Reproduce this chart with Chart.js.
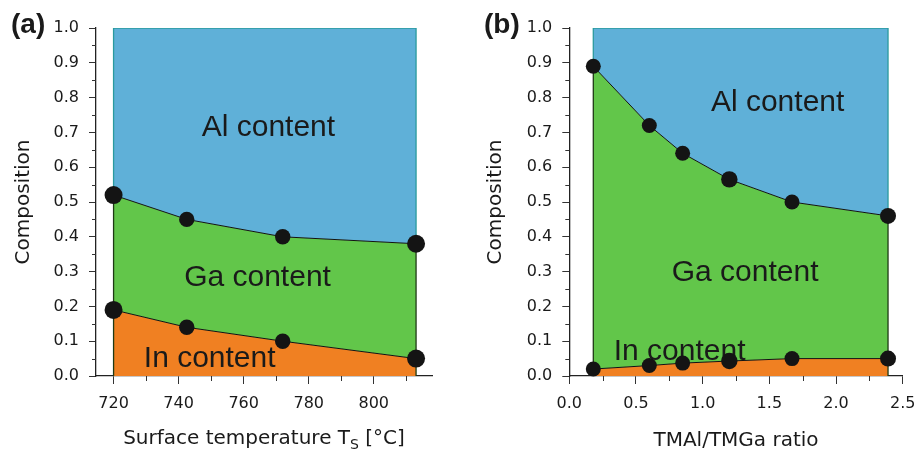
<!DOCTYPE html>
<html>
<head>
<meta charset="utf-8">
<script src="https://cdn.jsdelivr.net/npm/chart.js@4.4.1/dist/chart.umd.min.js"></script>
<style>
  body { margin: 0; background: #fff; }
  #wrap { position: relative; width: 916px; height: 450px; }
  canvas { position: absolute; top: 0; }
  #chartA { left: 0; }
  #chartB { left: 458px; }
</style>
</head>
<body>
<div id="wrap">
  <canvas id="chartA" width="458" height="450"></canvas>
  <canvas id="chartB" width="458" height="450"></canvas>
</div>
<script>
/* DATA (a) : composition vs surface temperature */
const tempA = [720, 742.5, 772, 813];
const alEdgeA = [0.52, 0.45, 0.40, 0.38];   // In + Ga (bottom of Al region)
const inA = [0.19, 0.14, 0.10, 0.05];

/* DATA (b) : composition vs TMAl/TMGa ratio */
const ratioB = [0.18, 0.6, 0.85, 1.2, 1.67, 2.39];
const alEdgeB = [0.89, 0.72, 0.64, 0.565, 0.50, 0.46];
const inB = [0.02, 0.03, 0.037, 0.043, 0.05, 0.05];

const total = 1.0;

/* TICKS */
const yTicks = [0, 0.1, 0.2, 0.3, 0.4, 0.5, 0.6, 0.7, 0.8, 0.9, 1.0];
const yMinor = [0.05, 0.15, 0.25, 0.35, 0.45, 0.55, 0.65, 0.75, 0.85, 0.95];
const xTicksA = [720, 740, 760, 780, 800];
const xMinorA = [730, 750, 770, 790, 810];
const xTicksB = [0, 0.5, 1.0, 1.5, 2.0, 2.5];
const xMinorB = [0.25, 0.75, 1.25, 1.75, 2.25];

const FONT = '"DejaVu Sans", sans-serif';
const INK = "#1a1a1a";

/* DATASETS */
function buildDatasets(xs, al, ind, radii){
  const pts = ys => xs.map((x, i) => ({x, y: ys[i]}));
  const n = xs.length - 1;
  const dot = {pointRadius: radii, pointBackgroundColor: "#141414", pointBorderWidth: 0, pointHoverRadius: radii};
  return [
    Object.assign({label: "Ga/Al boundary", data: pts(al), borderColor: "#111", borderWidth: 1,
      fill: {target: 1}, backgroundColor: "#62c64a", clip: false}, dot),
    Object.assign({label: "In content", data: pts(ind), borderColor: "#111", borderWidth: 1,
      fill: "origin", backgroundColor: "#f08022", clip: false}, dot),
    {label: "Al content", data: xs.map(x => ({x, y: total})), borderWidth: 0, pointRadius: 0,
      fill: {target: 0}, backgroundColor: "#5fb0d8"},
    {label: "Al edge", data: [{x: xs[0], y: al[0]}, {x: xs[0], y: total}, {x: xs[n], y: total}, {x: xs[n], y: al[n]}],
      borderColor: "#2a9a9e", borderWidth: 1.3, pointRadius: 0, fill: false},
    {label: "Ga edge", data: [{x: xs[0], y: 0}, {x: xs[0], y: al[0]}, {x: xs[n], y: null}, {x: xs[n], y: al[n]}, {x: xs[n], y: 0}],
      borderColor: "#1e3a14", borderWidth: 1.3, pointRadius: 0, fill: false, spanGaps: false}
  ];
}

/* PLUGIN: region labels, minor ticks, panel letter, custom title */
const extras = {
  id: "extras",
  beforeDatasetsDraw(chart, args, o){
    const {ctx, scales: {x, y}} = chart;
    ctx.save();
    ctx.fillStyle = INK;
    ctx.font = '30px "Liberation Sans", Arial, sans-serif';
    ctx.textBaseline = "alphabetic";
    o.regions.forEach(r => ctx.fillText(r.text, x.getPixelForValue(r.x), y.getPixelForValue(r.y)));
    ctx.restore();
  },
  afterDraw(chart, args, o){
    const {ctx, scales: {x, y}, chartArea} = chart;
    ctx.save();
    ctx.strokeStyle = "#333";
    ctx.lineWidth = 1;
    o.xMinor.forEach(v => {
      const px = Math.round(x.getPixelForValue(v)) + 0.5;
      ctx.beginPath(); ctx.moveTo(px, chartArea.bottom); ctx.lineTo(px, chartArea.bottom + 5); ctx.stroke();
    });
    o.yMinor.forEach(v => {
      const py = Math.round(y.getPixelForValue(v)) + 0.5;
      ctx.beginPath(); ctx.moveTo(chartArea.left, py); ctx.lineTo(chartArea.left - 4, py); ctx.stroke();
    });
    // panel letter
    ctx.fillStyle = INK;
    ctx.font = 'bold 28px "Liberation Sans", Arial, sans-serif';
    ctx.textBaseline = "alphabetic";
    ctx.fillText(o.letter, o.letterX, 33);
    // x title with subscript
    if (o.subTitle){
      const [main, sub, rest] = o.subTitle;
      ctx.font = "20px " + FONT;
      const w1 = ctx.measureText(main).width, w3 = ctx.measureText(rest).width;
      ctx.font = "14px " + FONT;
      const w2 = ctx.measureText(sub).width;
      let cx = (chartArea.left + chartArea.right) / 2 - (w1 + w2 + w3) / 2;
      const base = 444;
      ctx.font = "20px " + FONT; ctx.fillText(main, cx, base); cx += w1;
      ctx.font = "14px " + FONT; ctx.fillText(sub, cx, base + 5); cx += w2;
      ctx.font = "20px " + FONT; ctx.fillText(rest, cx, base);
    }
    ctx.restore();
  }
};

function yScale(width, titlePad){
  return {
    type: "linear", min: 0, max: 1,
    afterBuildTicks: s => { s.ticks = yTicks.map(v => ({value: v})); },
    afterFit: s => { s.width = width; },
    ticks: {callback: v => v.toFixed(1), font: {family: FONT, size: 16}, color: INK, padding: 10},
    grid: {drawOnChartArea: false, tickLength: 7, color: "#333"},
    border: {color: "#222", width: 1.3},
    title: {display: true, text: "Composition", font: {family: FONT, size: 20}, color: INK,
      padding: {top: titlePad, bottom: 0}}
  };
}

function xScale(min, max, ticks, fmt, title){
  return {
    type: "linear", min, max,
    afterBuildTicks: s => { s.ticks = ticks.map(v => ({value: v})); },
    afterFit: s => { s.height = 74; s.paddingLeft = 0; s.paddingRight = 0; },
    ticks: {callback: fmt, font: {family: FONT, size: 16}, color: INK, padding: 10, maxRotation: 0},
    grid: {drawOnChartArea: false, tickLength: 8, color: "#333"},
    border: {color: "#222", width: 1.3},
    title: {display: !!title, text: title || "", font: {family: FONT, size: 20}, color: INK,
      padding: {top: 0, bottom: -3}}
  };
}

function makeChart(id, datasets, xs, padRight, yWidth, yTitlePad, extraOpts){
  return new Chart(document.getElementById(id), {
    type: "line",
    data: {datasets},
    options: {
      responsive: false, animation: false, devicePixelRatio: 1, events: [],
      layout: {padding: {top: 28, right: padRight, left: 0, bottom: 0}},
      elements: {line: {tension: 0}},
      scales: {x: xs, y: yScale(yWidth, yTitlePad)},
      plugins: {
        legend: {display: false}, tooltip: {enabled: false},
        filler: {propagate: false, drawTime: "beforeDatasetsDraw"},
        extras: extraOpts
      }
    },
    plugins: [extras]
  });
}

/* CHART (a) */
makeChart("chartA",
  buildDatasets(tempA, alEdgeA, inA, [9, 7.7, 7.7, 9]),
  xScale(714.6, 817.9, xTicksA, v => String(v), null),
  26, 96, 12,
  {
    letter: "(a)", letterX: 11,
    xMinor: xMinorA, yMinor,
    subTitle: ["Surface temperature T", "S", " [\u00B0C]"],
    regions: [
      {text: "Al content", x: 747.1, y: 0.69},
      {text: "Ga content", x: 741.7, y: 0.259},
      {text: "In content", x: 729.3, y: 0.027}
    ]
  });

/* CHART (b) */
makeChart("chartB",
  buildDatasets(ratioB, alEdgeB, inB, [7.5, 7.5, 7.5, 8.2, 7.5, 8]),
  xScale(0, 2.5, xTicksB, v => v.toFixed(1), "TMAl/TMGa ratio"),
  13.3, 111.3, 26,
  {
    letter: "(b)", letterX: 26,
    xMinor: xMinorB, yMinor,
    subTitle: null,
    regions: [
      {text: "Al content", x: 1.062, y: 0.761},
      {text: "Ga content", x: 0.768, y: 0.273},
      {text: "In content", x: 0.333, y: 0.046}
    ]
  });
</script>
</body>
</html>
